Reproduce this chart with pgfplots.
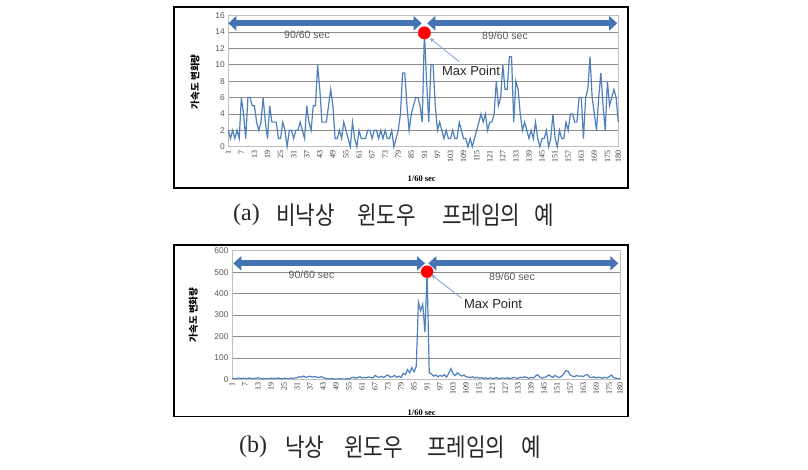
\documentclass[border=0pt]{standalone}
\usepackage{pgfplots}
\pgfplotsset{compat=1.18}
\usepackage{fontspec}
\setmainfont{Liberation Sans}
\newfontfamily\kr{Noto Sans CJK KR}
\newfontfamily\serifLM{Liberation Serif}
\usetikzlibrary{arrows.meta}
\definecolor{lineblue}{HTML}{4F81BD}
\definecolor{arrowblue}{HTML}{4474B4}
\definecolor{connblue}{HTML}{7FA1CF}
\definecolor{gridgray}{HTML}{8C8C8C}
\definecolor{txtgray}{HTML}{595959}

\newcommand{\capw}[1]{\scalebox{0.85}[1]{\kr\fontsize{25}{27}\selectfont #1}}
\tikzset{arr/.style={arrowblue, line width=6pt, {Triangle[length=8pt,width=14pt]}-{Triangle[length=8pt,width=14pt]}}}
\pgfplotsset{
  mystyle/.style={
    scale only axis,
    xmin=1, xmax=180,
    xtick={1,7,...,175,180},
    ymajorgrids,
    major grid style={gridgray, line width=0.7pt},
    axis line style={gray!50, line width=0.6pt},
    major tick length=0pt,
    /pgf/number format/assume math mode=true,
    yticklabel style={font=\fontsize{8.4}{9}\selectfont, text=txtgray},
    xticklabel style={rotate=90, anchor=east, font=\serifLM\fontsize{8}{9}\selectfont, text=black!80},
    clip=false,
  },
}

\begin{document}
\begin{tikzpicture}
\fill[white] (0pt,0pt) rectangle (808pt,469pt);
\path[use as bounding box] (0pt,0pt) rectangle (808pt,469pt);
\draw[line width=1.2pt] (174pt,281pt) rectangle (628pt,462pt);
\draw[line width=1.2pt] (174pt,52.3pt) rectangle (628pt,224pt);

% ---------------- (a) ----------------
\begin{axis}[mystyle, at={(228.3pt,322.3pt)}, anchor=south west,
  width=390pt, height=131pt, ymin=0, ymax=16, ytick={0,2,...,16}]
\addplot[lineblue, line width=1.2pt] coordinates {
(1,2)(2,1)(3,2)(4,1)(5,2)(6,1)(7,6)(8,4)(9,1)(10,6)
(11,6)(12,5)(13,5)(14,3)(15,2)(16,3)(17,6)(18,3)(19,1)(20,5)
(21,3)(22,3)(23,3)(24,1)(25,1)(26,3)(27,2)(28,0)(29,2)(30,2)
(31,1)(32,2)(33,2)(34,3)(35,2)(36,1)(37,5)(38,3)(39,2)(40,5)
(41,5)(42,10)(43,7)(44,3)(45,3)(46,3)(47,5)(48,7)(49,5)(50,1)
(51,1)(52,2)(53,1)(54,3)(55,2)(56,1)(57,0)(58,3)(59,1)(60,0)
(61,2)(62,1)(63,1)(64,1)(65,2)(66,2)(67,1)(68,2)(69,2)(70,1)
(71,2)(72,1)(73,2)(74,1)(75,1)(76,2)(77,0)(78,1)(79,2)(80,4)
(81,9)(82,9)(83,5)(84,2)(85,4)(86,5)(87,6)(88,6)(89,5)(90,3)
(91,14)(92,8)(93,3)(94,10)(95,10)(96,5)(97,2)(98,3)(99,2)(100,1)
(101,2)(102,1)(103,1)(104,2)(105,1)(106,1)(107,3)(108,2)(109,1)(110,1)
(111,0)(112,1)(113,0)(114,1)(115,2)(116,3)(117,4)(118,3)(119,4)(120,2)
(121,3)(122,3)(123,4)(124,8)(125,5)(126,6)(127,10)(128,7)(129,7)(130,11)
(131,11)(132,3)(133,8)(134,7)(135,4)(136,2)(137,3)(138,2)(139,1)(140,2)
(141,1)(142,3)(143,1)(144,0)(145,1)(146,1)(147,2)(148,0)(149,1)(150,4)
(151,1)(152,0)(153,2)(154,1)(155,1)(156,3)(157,2)(158,4)(159,4)(160,3)
(161,3)(162,6)(163,6)(164,1)(165,6)(166,7)(167,11)(168,6)(169,4)(170,2)
(171,6)(172,9)(173,5)(174,2)(175,8)(176,5)(177,6)(178,7)(179,6)(180,3)
};
\draw[arr] (axis cs:1,15.07) -- (axis cs:89.77,15.07);
\draw[arr] (axis cs:92.33,15.07) -- (axis cs:179.5,15.07);
\addplot[only marks, mark=*, mark size=6.2pt, draw=red, fill=red] coordinates {(91,13.9)};
\end{axis}

% ---------------- (b) ----------------
\begin{axis}[mystyle, at={(232pt,89.7pt)}, anchor=south west,
  width=388pt, height=128.6pt, ymin=0, ymax=600, ytick={0,100,...,600}]
\addplot[lineblue, line width=1.2pt] coordinates {
(1,5)(2,3)(3,4)(4,6)(5,3)(6,5)(7,4)(8,3)(9,6)(10,4)
(11,3)(12,5)(13,7)(14,4)(15,3)(16,2)(17,4)(18,3)(19,5)(20,4)
(21,3)(22,6)(23,4)(24,2)(25,5)(26,4)(27,3)(28,5)(29,4)(30,6)
(31,8)(32,12)(33,10)(34,15)(35,9)(36,12)(37,14)(38,10)(39,13)(40,11)
(41,8)(42,12)(43,9)(44,4)(45,3)(46,2)(47,3)(48,2)(49,1)(50,2)
(51,3)(52,2)(53,1)(54,3)(55,2)(56,6)(57,10)(58,5)(59,8)(60,12)
(61,6)(62,9)(63,7)(64,11)(65,8)(66,6)(67,18)(68,12)(69,9)(70,14)
(71,8)(72,16)(73,20)(74,10)(75,12)(76,18)(77,9)(78,15)(79,8)(80,28)
(81,22)(82,45)(83,30)(84,55)(85,35)(86,60)(87,360)(88,320)(89,350)(90,220)
(91,500)(92,30)(93,25)(94,15)(95,20)(96,12)(97,18)(98,14)(99,22)(100,10)
(101,28)(102,50)(103,25)(104,18)(105,30)(106,22)(107,15)(108,20)(109,12)(110,10)
(111,8)(112,12)(113,6)(114,10)(115,5)(116,8)(117,4)(118,7)(119,3)(120,6)
(121,5)(122,4)(123,8)(124,3)(125,5)(126,6)(127,4)(128,7)(129,3)(130,5)
(131,8)(132,6)(133,4)(134,10)(135,7)(136,12)(137,8)(138,5)(139,9)(140,6)
(141,15)(142,22)(143,10)(144,6)(145,8)(146,12)(147,20)(148,15)(149,9)(150,18)
(151,12)(152,8)(153,14)(154,25)(155,40)(156,38)(157,20)(158,15)(159,12)(160,18)
(161,14)(162,16)(163,12)(164,20)(165,22)(166,10)(167,8)(168,12)(169,6)(170,10)
(171,8)(172,5)(173,10)(174,6)(175,12)(176,20)(177,8)(178,5)(179,4)(180,3)
};
\draw[arr] (axis cs:1.6,541) -- (axis cs:90.04,541);
\draw[arr] (axis cs:91.56,541) -- (axis cs:179.2,541);
\addplot[only marks, mark=*, mark size=6pt, draw=red, fill=red] coordinates {(91,502)};
\end{axis}

% annotations (a)
\node[text=txtgray, font=\fontsize{10.5}{12}\selectfont] at (307pt,434pt) {90/60 sec};
\node[text=txtgray, font=\fontsize{10.5}{12}\selectfont] at (505pt,433pt) {89/60 sec};
\node[text=black!85, font=\fontsize{13}{15}\selectfont] at (471pt,398pt) {Max Point};
\draw[connblue, line width=0.8pt, -{Stealth[length=4pt,width=4pt]}] (459.3pt,407.3pt) -- (430pt,430.7pt);
\node[font=\serifLM\bfseries\fontsize{8.5}{10}\selectfont] at (421.7pt,290pt) {1/60 sec};
\node[rotate=90, font=\kr\bfseries\fontsize{9.5}{10}\selectfont] at (195pt,387.3pt) {가속도 변화량};

% annotations (b)
\node[text=txtgray, font=\fontsize{10.5}{12}\selectfont] at (311.5pt,194pt) {90/60 sec};
\node[text=txtgray, font=\fontsize{10.5}{12}\selectfont] at (512pt,192.3pt) {89/60 sec};
\node[text=black!85, font=\fontsize{13}{15}\selectfont] at (493pt,165pt) {Max Point};
\draw[connblue, line width=0.8pt, -{Stealth[length=4pt,width=4pt]}] (461.7pt,170.7pt) -- (431.7pt,194pt);
\node[font=\serifLM\bfseries\fontsize{8.5}{10}\selectfont] at (421.7pt,56.3pt) {1/60 sec};
\node[rotate=90, font=\kr\bfseries\fontsize{9.5}{10}\selectfont] at (193.3pt,154pt) {가속도 변화량};

% captions
\begin{scope}[every node/.style={anchor=west, inner sep=0pt, text=black!85}]
\node[font=\serifLM\fontsize{24}{26}\selectfont] at (233pt,254pt) {(a)};
\node at (276pt,254pt) {\capw{비낙상}};
\node at (357pt,254pt) {\capw{윈도우}};
\node at (442pt,254pt) {\capw{프레임의}};
\node at (534pt,254pt) {\capw{예}};
\node[font=\serifLM\fontsize{24}{26}\selectfont] at (239pt,22.3pt) {(b)};
\node at (285pt,22.3pt) {\capw{낙상}};
\node at (344pt,22.3pt) {\capw{윈도우}};
\node at (427pt,22.3pt) {\capw{프레임의}};
\node at (521pt,22.3pt) {\capw{예}};
\end{scope}
\end{tikzpicture}
\end{document}
